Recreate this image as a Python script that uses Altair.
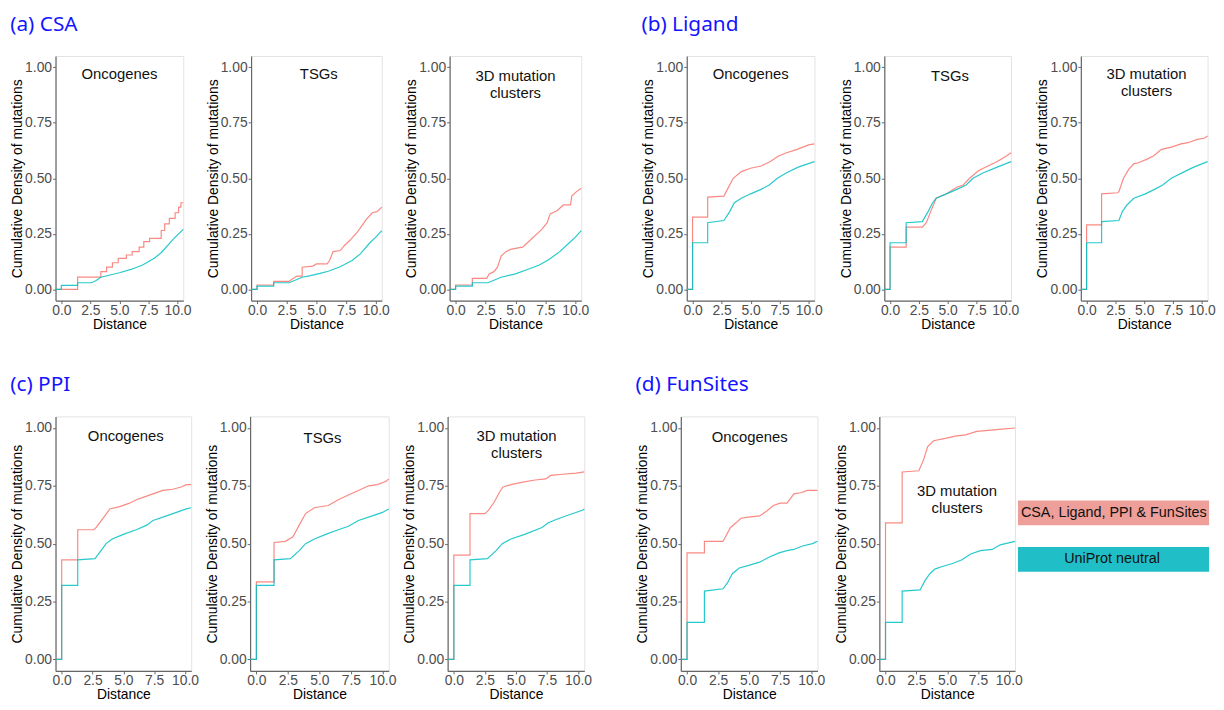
import altair as alt
import pandas as pd

SERIES = ["CSA, Ligand, PPI & FunSites", "UniProt neutral"]
LINE_COLORS = ["#F8766D", "#00BFC4"]
BOX_COLORS = ["#EE9F99", "#20BEC6"]

X_TICKS = [0, 2.5, 5, 7.5, 10]
Y_TICKS = [0, 0.25, 0.5, 0.75, 1.0]
X_TITLE = "Distance"
Y_TITLE = "Cumulative Density of mutations"
GROUP_TITLES = ["(a) CSA", "(b) Ligand", "(c) PPI", "(d) FunSites"]
LBL_ONC = ["Oncogenes"]
LBL_TSG = ["TSGs"]
LBL_3D = ["3D mutation", "clusters"]

# ---- curves: (distance, cumulative density) vertices ----
A_ONC_RED = [(-0.5, 0), (1.4, 0), (1.4, 0.055), (3.4, 0.055), (3.4, 0.08), (3.9, 0.08), (3.9, 0.10),
             (4.4, 0.10), (4.4, 0.12), (4.9, 0.12), (4.9, 0.14), (5.6, 0.14), (5.6, 0.155), (6.1, 0.155),
             (6.1, 0.17), (6.7, 0.17), (6.7, 0.19), (7.1, 0.19), (7.1, 0.215), (7.6, 0.215), (7.6, 0.23),
             (8.6, 0.23), (8.6, 0.265), (8.9, 0.265), (8.9, 0.295), (9.3, 0.295), (9.3, 0.32), (9.8, 0.32),
             (9.8, 0.345), (10.1, 0.345), (10.1, 0.37), (10.3, 0.37), (10.3, 0.39), (10.5, 0.39)]
A_ONC_CYAN = [(-0.5, 0), (0, 0), (0, 0.018), (1.4, 0.018), (1.4, 0.03), (2.6, 0.03), (3.0, 0.04), (3.4, 0.055),
              (4.2, 0.065), (5.0, 0.075), (6.0, 0.09), (7.0, 0.11), (8.0, 0.14), (8.6, 0.165), (9.2, 0.2),
              (9.7, 0.23), (10.5, 0.27)]
A_TSG_RED = [(-0.5, 0), (0, 0), (0, 0.02), (1.4, 0.02), (1.4, 0.036), (2.7, 0.036), (2.9, 0.045), (3.35, 0.06),
             (3.8, 0.06), (3.8, 0.10), (4.7, 0.105), (5.0, 0.115), (5.9, 0.115), (6.1, 0.13), (6.4, 0.17),
             (7.0, 0.175), (7.4, 0.2), (7.8, 0.22), (8.4, 0.255), (8.8, 0.285), (9.2, 0.315), (9.7, 0.345),
             (10.1, 0.35), (10.5, 0.37)]
A_TSG_CYAN = [(-0.5, 0), (0, 0), (0, 0.015), (1.4, 0.015), (1.4, 0.03), (2.7, 0.03), (3.8, 0.055), (4.5, 0.062),
              (5.3, 0.072), (6.0, 0.082), (7.0, 0.102), (8.0, 0.13), (8.7, 0.16), (9.5, 0.21), (10.0, 0.235),
              (10.5, 0.265)]
A_3D_RED = [(-0.5, 0), (0, 0), (0, 0.02), (1.4, 0.02), (1.4, 0.05), (2.6, 0.05), (2.8, 0.07), (3.2, 0.08),
            (3.5, 0.10), (3.8, 0.15), (4.2, 0.17), (4.6, 0.18), (5.0, 0.185), (5.6, 0.19), (6.0, 0.21),
            (6.4, 0.23), (6.8, 0.25), (7.2, 0.27), (7.65, 0.30), (7.9, 0.34), (8.5, 0.355), (9.0, 0.38),
            (9.6, 0.38), (9.7, 0.42), (10.1, 0.44), (10.5, 0.455)]
A_3D_CYAN = [(-0.5, 0), (0, 0), (0, 0.015), (1.4, 0.015), (1.4, 0.03), (2.7, 0.03), (3.8, 0.055), (5.0, 0.07),
             (6.0, 0.09), (7.0, 0.11), (7.8, 0.135), (8.7, 0.17), (9.5, 0.21), (10.0, 0.235), (10.5, 0.265)]

B_ONC_RED = [(-0.5, 0), (0, 0), (0, 0.325), (1.3, 0.325), (1.3, 0.415), (2.7, 0.42), (3.0, 0.45), (3.5, 0.5),
             (4.2, 0.53), (5.0, 0.545), (5.9, 0.555), (6.7, 0.575), (7.4, 0.6), (8.1, 0.615), (9.0, 0.63),
             (10.0, 0.65), (10.5, 0.655)]
B_ONC_CYAN = [(-0.5, 0), (0, 0), (0, 0.21), (1.3, 0.21), (1.3, 0.30), (2.7, 0.31), (3.2, 0.35), (3.6, 0.39),
              (4.2, 0.41), (5.0, 0.43), (5.9, 0.45), (6.6, 0.47), (7.3, 0.5), (8.1, 0.525), (9.1, 0.55),
              (10.5, 0.575)]
B_TSG_RED = [(-0.5, 0), (0, 0), (0, 0.19), (1.4, 0.19), (1.4, 0.28), (2.8, 0.28), (3.15, 0.30), (3.6, 0.36),
             (4.0, 0.41), (4.9, 0.43), (5.8, 0.46), (6.35, 0.47), (6.9, 0.5), (7.7, 0.535), (8.5, 0.555),
             (9.3, 0.575), (10.1, 0.6), (10.5, 0.615)]
B_TSG_CYAN = [(-0.5, 0), (0, 0), (0, 0.21), (1.4, 0.21), (1.4, 0.30), (2.8, 0.305), (3.3, 0.35), (3.7, 0.39),
              (4.0, 0.41), (4.9, 0.43), (5.8, 0.45), (6.6, 0.47), (7.2, 0.5), (8.1, 0.525), (9.3, 0.55),
              (10.5, 0.575)]
B_3D_RED = [(-0.5, 0), (0, 0), (0, 0.29), (1.3, 0.29), (1.3, 0.43), (2.7, 0.435), (2.8, 0.44), (3.2, 0.5),
            (3.65, 0.54), (4.1, 0.565), (4.5, 0.57), (5.2, 0.585), (5.8, 0.6), (6.5, 0.63), (7.35, 0.64),
            (8.2, 0.655), (8.8, 0.66), (9.6, 0.675), (10.2, 0.68), (10.5, 0.69)]
B_3D_CYAN = [(-0.5, 0), (0, 0), (0, 0.21), (1.3, 0.21), (1.3, 0.305), (2.8, 0.31), (3.1, 0.35), (3.5, 0.38),
             (4.1, 0.41), (5.1, 0.43), (5.9, 0.45), (6.6, 0.47), (7.35, 0.5), (8.5, 0.53), (9.3, 0.55),
             (10.5, 0.575)]

C_ONC_RED = [(-0.5, 0), (0, 0), (0, 0.43), (1.3, 0.43), (1.3, 0.56), (2.6, 0.56), (2.8, 0.57), (3.5, 0.62),
             (3.9, 0.65), (4.7, 0.66), (5.5, 0.675), (6.05, 0.69), (6.6, 0.7), (7.4, 0.715), (8.2, 0.73),
             (9.0, 0.735), (9.7, 0.745), (10.1, 0.755), (10.5, 0.755)]
C_ONC_CYAN = [(-0.5, 0), (0, 0), (0, 0.32), (1.3, 0.32), (1.3, 0.43), (2.7, 0.435), (3.05, 0.46), (3.6, 0.5),
              (4.1, 0.52), (5.0, 0.54), (6.05, 0.56), (6.9, 0.58), (7.4, 0.6), (8.5, 0.62), (9.3, 0.635),
              (10.1, 0.65), (10.5, 0.655)]
C_TSG_RED = [(-0.5, 0), (0, 0), (0, 0.335), (1.4, 0.335), (1.4, 0.505), (2.3, 0.51), (2.9, 0.53), (3.4, 0.58),
             (3.9, 0.63), (4.6, 0.655), (5.7, 0.665), (6.5, 0.69), (7.3, 0.71), (8.1, 0.73), (8.9, 0.75),
             (9.6, 0.755), (10.3, 0.77), (10.5, 0.78)]
C_TSG_CYAN = [(-0.5, 0), (0, 0), (0, 0.32), (1.4, 0.32), (1.4, 0.43), (2.7, 0.435), (3.4, 0.47), (3.9, 0.5),
              (4.6, 0.52), (5.5, 0.54), (6.5, 0.56), (7.3, 0.575), (8.1, 0.6), (9.2, 0.62), (10.0, 0.635),
              (10.5, 0.65)]
C_3D_RED = [(-0.5, 0), (0, 0), (0, 0.45), (1.3, 0.45), (1.3, 0.63), (2.5, 0.63), (2.8, 0.645), (3.25, 0.68),
            (3.65, 0.72), (3.95, 0.745), (4.6, 0.755), (5.45, 0.765), (6.55, 0.775), (7.4, 0.78), (7.8, 0.795),
            (8.75, 0.8), (9.85, 0.805), (10.5, 0.81)]
C_3D_CYAN = [(-0.5, 0), (0, 0), (0, 0.32), (1.3, 0.32), (1.3, 0.43), (2.7, 0.435), (3.4, 0.47), (3.9, 0.5),
             (4.6, 0.52), (5.7, 0.54), (7.1, 0.57), (7.6, 0.59), (8.5, 0.61), (9.3, 0.625), (10.4, 0.645),
             (10.5, 0.65)]

D_ONC_RED = [(-0.5, 0), (0, 0), (0, 0.46), (1.4, 0.46), (1.4, 0.51), (2.9, 0.51), (3.1, 0.53), (3.5, 0.57),
             (3.95, 0.59), (4.35, 0.61), (4.9, 0.615), (5.85, 0.62), (6.4, 0.64), (6.95, 0.665), (7.5, 0.675),
             (8.05, 0.675), (8.6, 0.715), (9.15, 0.72), (9.7, 0.73), (10.5, 0.73)]
D_ONC_CYAN = [(-0.5, 0), (0, 0), (0, 0.16), (1.4, 0.16), (1.4, 0.295), (2.9, 0.305), (3.25, 0.33), (3.65, 0.37),
              (4.2, 0.395), (4.9, 0.405), (5.85, 0.42), (6.55, 0.44), (7.4, 0.46), (8.05, 0.47), (8.6, 0.475),
              (9.3, 0.49), (10.1, 0.5), (10.5, 0.51)]
D_3D_RED = [(-0.5, 0), (0, 0), (0, 0.59), (1.35, 0.59), (1.35, 0.81), (2.7, 0.815), (3.07, 0.86), (3.42, 0.92),
            (3.9, 0.945), (4.85, 0.955), (5.65, 0.965), (6.5, 0.97), (7.4, 0.985), (8.35, 0.99), (9.45, 0.995),
            (10.5, 1.0)]
D_3D_CYAN = [(-0.5, 0), (0, 0), (0, 0.16), (1.35, 0.16), (1.35, 0.295), (2.8, 0.3), (3.2, 0.34), (3.6, 0.37),
             (4.0, 0.39), (4.55, 0.4), (5.5, 0.415), (6.2, 0.43), (6.9, 0.455), (7.7, 0.47), (8.65, 0.475),
             (9.3, 0.495), (10.5, 0.51)]

# in-panel label anchors (data coordinates): x, y of the first label line
LBL_POS_A = [(5.0, 0.97), (5.2, 0.97), (5.0, 0.962)]
LBL_POS_B = [(5.0, 0.967), (5.2, 0.962), (5.2, 0.968)]
LBL_POS_C = [(5.2, 0.965), (5.25, 0.958), (5.05, 0.967)]
LBL_POS_D = [(5.05, 0.96), (5.8, 0.727)]

XS = alt.Scale(domain=[-0.5, 10.5], nice=False, zero=False)
YS = alt.Scale(domain=[-0.05, 1.05], nice=False, zero=False)


def enc_x():
    return alt.X("x:Q", scale=XS, axis=alt.Axis(values=X_TICKS, format=".1f", title=X_TITLE))


def enc_y():
    return alt.Y("y:Q", scale=YS, axis=alt.Axis(values=Y_TICKS, format=".2f", title=Y_TITLE))


def curve(points, color):
    df = pd.DataFrame({"x": [p[0] for p in points], "y": [p[1] for p in points],
                       "i": list(range(len(points)))})
    return alt.Chart(df).mark_line(color=color, strokeWidth=1.2, opacity=0.85).encode(
        x=enc_x(), y=enc_y(), order="i:Q")


def label(lines, pos):
    lx, ly = pos
    df = pd.DataFrame({"x": [lx], "y": [ly], "t": ["\n".join(lines)]})
    return alt.Chart(df).mark_text(font="Liberation Sans", fontSize=15, color="#111111", lineBreak="\n",
                                   lineHeight=17.5, baseline="middle").encode(
        x=enc_x(), y=enc_y(), text="t:N")


def legend_layers(w):
    out = []
    tops = [85, 132]
    for k in range(2):
        df = pd.DataFrame({"s": [SERIES[k]]})
        out.append(alt.Chart(df).mark_rect(color=BOX_COLORS[k]).encode(
            x=alt.value(w + 3), x2=alt.value(w + 196), y=alt.value(tops[k]), y2=alt.value(tops[k] + 25)))
        if k == 0:
            out.append(alt.Chart(df).mark_text(align="left", baseline="middle", font="Liberation Sans",
                                               fontSize=14.5, color="#111111").encode(
                x=alt.value(w + 6), y=alt.value(tops[k] + 12.5), text="s:N"))
        else:
            out.append(alt.Chart(df).mark_text(align="center", baseline="middle", font="Liberation Sans",
                                               fontSize=14.5, color="#111111").encode(
                x=alt.value(w + 98), y=alt.value(tops[k] + 12.5), text="s:N"))
    return out


def panel(red, cyan, lines, pos, w, h, extra=()):
    layers = [curve(red, LINE_COLORS[0]), curve(cyan, LINE_COLORS[1]), label(lines, pos)] + list(extra)
    return alt.layer(*layers).properties(width=w, height=h)


H1, H2 = 247, 257

gA = alt.hconcat(
    panel(A_ONC_RED, A_ONC_CYAN, LBL_ONC, LBL_POS_A[0], 129, H1),
    panel(A_TSG_RED, A_TSG_CYAN, LBL_TSG, LBL_POS_A[1], 132, H1),
    panel(A_3D_RED, A_3D_CYAN, LBL_3D, LBL_POS_A[2], 133, H1),
    spacing=13.5, title=GROUP_TITLES[0])
gB = alt.hconcat(
    panel(B_ONC_RED, B_ONC_CYAN, LBL_ONC, LBL_POS_B[0], 129, H1),
    panel(B_TSG_RED, B_TSG_CYAN, LBL_TSG, LBL_POS_B[1], 128, H1),
    panel(B_3D_RED, B_3D_CYAN, LBL_3D, LBL_POS_B[2], 128, H1),
    spacing=15.5, title=GROUP_TITLES[1])
gC = alt.hconcat(
    panel(C_ONC_RED, C_ONC_CYAN, LBL_ONC, LBL_POS_C[0], 137, H2),
    panel(C_TSG_RED, C_TSG_CYAN, LBL_TSG, LBL_POS_C[1], 140, H2),
    panel(C_3D_RED, C_3D_CYAN, LBL_3D, LBL_POS_C[2], 138, H2),
    spacing=5.5, title=GROUP_TITLES[2])
gD = alt.hconcat(
    panel(D_ONC_RED, D_ONC_CYAN, LBL_ONC, LBL_POS_D[0], 138, H2),
    panel(D_3D_RED, D_3D_CYAN, LBL_3D, LBL_POS_D[1], 137, H2, extra=legend_layers(137)),
    spacing=8.5, title=GROUP_TITLES[3])

row1 = alt.hconcat(gA, gB, spacing=51.5)
row2 = alt.hconcat(gC, gD, spacing=43.5)

chart = alt.vconcat(row1, row2, spacing=42).properties(
    padding={"left": 2, "top": 2, "right": 0, "bottom": 0}
).configure_view(
    stroke="#E3E3E3", strokeWidth=1
).configure_axis(
    grid=False, domainColor="#666666", domainWidth=1.2, tickColor="#666666", tickSize=3,
    labelFont="Liberation Sans", labelFontSize=14, labelColor="#4D4D4D",
    titleFont="Liberation Sans", titleFontSize=14, titleFontWeight="normal", titleColor="#000000",
    labelPadding=1
).configure_axisX(
    titlePadding=0, labelPadding=0
).configure_axisY(
    titlePadding=0
).configure_title(
    font="Noto Sans", fontSize=21, fontWeight="normal", color="#1414FF", anchor="start", offset=21
)

chart.save("out.html", embed_options={"renderer": "svg", "actions": False})
